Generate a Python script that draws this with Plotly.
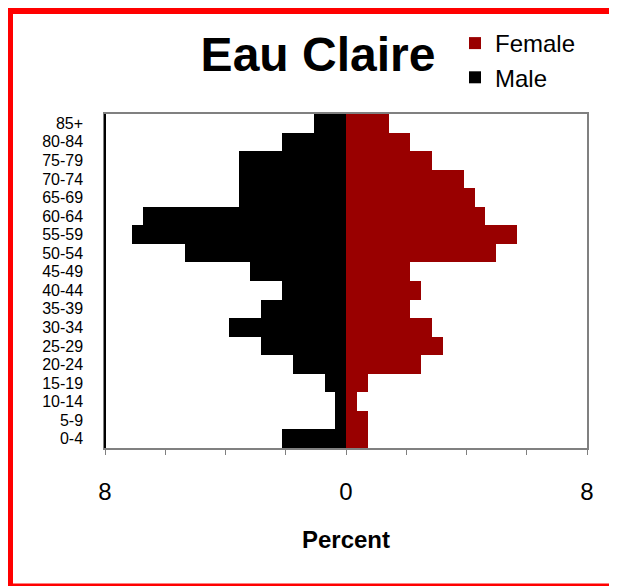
import plotly.graph_objects as go

age_groups = ["0-4", "5-9", "10-14", "15-19", "20-24", "25-29", "30-34", "35-39",
              "40-44", "45-49", "50-54", "55-59", "60-64", "65-69", "70-74",
              "75-79", "80-84", "85+"]
male_pct = [2.13, 0.35, 0.35, 0.71, 1.77, 2.83, 3.90, 2.83, 2.13, 3.19, 5.33,
            7.10, 6.73, 3.54, 3.54, 3.54, 2.13, 1.05]
female_pct = [0.72, 0.72, 0.36, 0.72, 2.49, 3.21, 2.85, 2.14, 2.49, 2.14, 4.98,
              5.69, 4.63, 4.27, 3.92, 2.85, 2.14, 1.44]
x_tick_vals = [-8, -6, -4, -2, 0, 2, 4, 6, 8]
x_tick_text = ["8", "", "", "", "0", "", "", "", "8"]

# page body has an 8px margin; figure is laid out in screen pixels minus that offset
OFF = 8
W, H = 617 - OFF, 586 - OFF
L, R, T, B = 105 - OFF, 30, 114 - OFF, 138
pw, ph = W - L - R, H - T - B

def px_x(p):
    return (p - OFF - L) / pw

def px_y(p):
    return (H - B - (p - OFF)) / ph

FONT = "Liberation Sans, Arial, sans-serif"
RED = "#ff0000"

fig = go.Figure()
fig.add_trace(go.Bar(
    y=age_groups, x=female_pct, orientation="h", name="Female",
    marker=dict(color="#990000", line=dict(width=0)),
))
fig.add_trace(go.Bar(
    y=age_groups, x=[-v for v in male_pct], orientation="h", name="Male",
    marker=dict(color="#000000", line=dict(width=0)),
))

shapes = [
    # black left axis line
    dict(type="line", xref="paper", yref="paper", x0=0, x1=0, y0=0, y1=1,
         line=dict(color="black", width=2)),
    # red outer frame: left, top, bottom
    dict(type="line", xref="paper", yref="paper",
         x0=px_x(10), x1=px_x(10), y0=px_y(8), y1=px_y(586),
         line=dict(color=RED, width=6), layer="above"),
    dict(type="line", xref="paper", yref="paper",
         x0=px_x(7), x1=px_x(620), y0=px_y(11), y1=px_y(11),
         line=dict(color=RED, width=6), layer="above"),
    dict(type="line", xref="paper", yref="paper",
         x0=px_x(7), x1=px_x(620), y0=px_y(586), y1=px_y(586),
         line=dict(color=RED, width=5), layer="above"),
]

fig.update_layout(
    width=W, height=H,
    margin=dict(l=L, r=R, t=T, b=B, pad=0),
    paper_bgcolor="white", plot_bgcolor="white",
    barmode="overlay", bargap=0,
    font=dict(family=FONT, color="black"),
    title=dict(text="Eau Claire", font=dict(size=48, family=FONT, weight="bold"),
               xref="paper", x=px_x(318), xanchor="center",
               yref="container", y=1 - (54 - OFF) / H, yanchor="middle"),
    legend=dict(x=px_x(455), y=px_y(21), xanchor="left", yanchor="top",
                font=dict(size=24, family=FONT), traceorder="normal",
                bgcolor="rgba(0,0,0,0)", itemclick=False),
    xaxis=dict(range=[-8, 8], tickvals=x_tick_vals, ticktext=x_tick_text,
               ticks="outside", ticklen=5, tickcolor="#808080", tickwidth=1,
               showline=True, linecolor="#808080", linewidth=1.5, mirror=True,
               showgrid=False, zeroline=False,
               tickfont=dict(size=24), ticklabelstandoff=16,
               title=dict(text="Percent", font=dict(size=24, weight="bold"),
                          standoff=28)),
    yaxis=dict(showline=True, linecolor="#808080", linewidth=1.5, mirror=True,
               showgrid=False, zeroline=False, ticks="",
               tickmode="array", tickvals=age_groups, ticktext=age_groups,
               tickfont=dict(size=16), ticklabelstandoff=17,
               categoryorder="array", categoryarray=age_groups),
    shapes=shapes,
)

fig.write_html("out.html")
